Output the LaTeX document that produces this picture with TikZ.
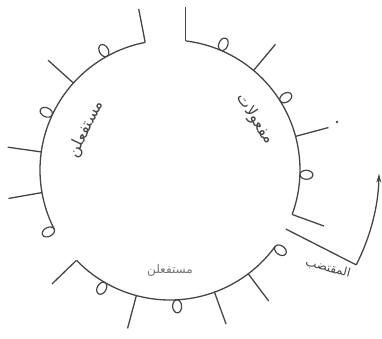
\documentclass[tikz,border=0pt]{standalone}
\usepackage{fontspec}
\usetikzlibrary{arrows.meta,calc}
\newfontfamily\arabicfont[Script=Arabic]{DejaVu Sans}
\TeXXeTstate=1
\definecolor{ink}{HTML}{454545}
\tikzset{
  ring/.style={draw=ink, line width=1.3pt},
  tickline/.style={draw=ink, line width=1.3pt},
  loopmark/.style={draw=ink, line width=1.2pt},
  lbl/.style={text=ink, inner sep=0pt, font=\arabicfont\fontsize{16}{16}\selectfont},
}
\newcommand{\tickat}[1]{\draw[tickline, shift={(C)}] (#1:130) -- (#1:164);}
\newcommand{\loopat}[1]{\draw[loopmark, shift={(C)}, rotate=#1] (136.5,0) ellipse [x radius=6.5, y radius=4.5];}
\begin{document}
\begin{tikzpicture}[x=1pt,y=1pt]
\useasboundingbox (0,0) rectangle (382,338);
\coordinate (C) at (170,168);
% arcs
\draw[ring, shift={(C)}] (340:130) arc[start angle=340, end angle=443, radius=130];
\draw[ring, shift={(C)}] (101:130) arc[start angle=101, end angle=207, radius=130];
\draw[ring, shift={(C)}] (224:130) arc[start angle=224, end angle=324, radius=130];
% arc A: mafUlAtu
\tickat{340}
\loopat{358}
\tickat{15}
\loopat{32}
\tickat{50}
\loopat{67}
\draw[tickline, shift={(C)}] (83:130) coordinate (topt) -- ++(90:34);
% arc B: mustafilun
\tickat{101}
\loopat{119}
\tickat{138}
\loopat{155}
\tickat{172}
\tickat{190}
\loopat{207}
% arc C: mustafilun
\tickat{224}
\loopat{240}
\tickat{255}
\loopat{273}
\tickat{290}
\tickat{307}
\loopat{324}
% start line and arrow
\coordinate (S1) at ($(C)+(333:130)$);
\coordinate (S2) at ($(C)+(333:209)$);
\draw[tickline] (S1) -- (S2);
\draw[tickline, -{Stealth[length=9pt,width=5pt]}, shift={(C)}] (333:209) arc[start angle=333, end angle=359, radius=209];
\fill[ink] (337,216) circle (1.3pt);
% labels
\node[lbl, rotate=64] (L1) at (86,209) {\beginR مستفعلن\endR};
\node[lbl, rotate=-57] (L2) at (255,219) {\beginR مفعولات\endR};
\node[lbl, text=ink!75, font=\arabicfont\fontsize{12}{12}\selectfont] (L3) at (170,68) {\beginR مستفعلن\endR};
\node[lbl, rotate=-15, font=\arabicfont\fontsize{12}{12}\selectfont] (L4) at (328,70) {\beginR المقتضب\endR};
\end{tikzpicture}
\end{document}
